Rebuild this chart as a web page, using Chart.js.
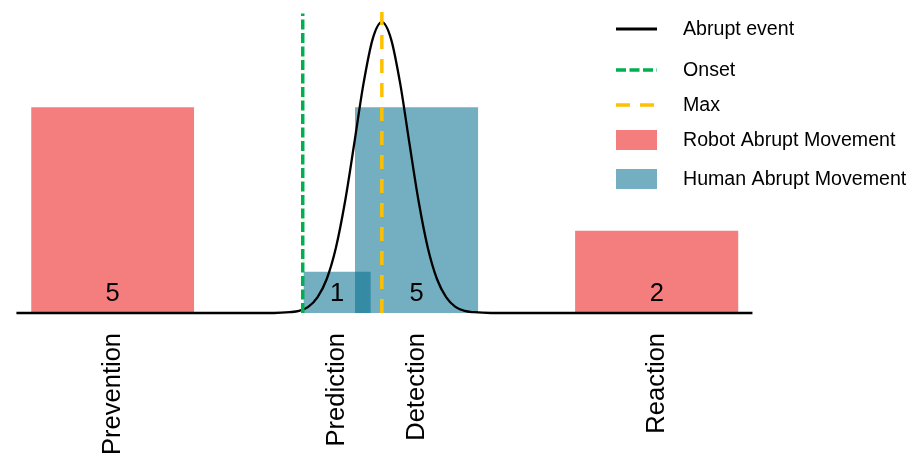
<!DOCTYPE html>
<html>
<head>
<meta charset="utf-8">
<script src="https://cdn.jsdelivr.net/npm/chart.js@4.4.1/dist/chart.umd.min.js"></script>
<style>
  html, body { margin: 0; padding: 0; background: #fff; }
  #wrap { width: 914px; height: 456px; }
</style>
</head>
<body>
<div id="wrap"><canvas id="c"></canvas></div>
<script>
// categories + bars (x range start/end, height)
const categories = ['Prevention', 'Prediction', 'Detection', 'Reaction'];
const barOwner   = ['robot', 'human', 'human', 'robot'];
const barStart   = [0.40, 7.80, 9.20, 15.18];
const barEnd     = [4.83, 9.63, 12.55, 19.62];
const barValue   = [5, 1, 5, 2];

// abrupt event curve
const curveX = [0, 7.0, 7.43, 7.68, 7.93, 8.18, 8.43, 8.68, 8.93, 9.18, 9.43, 9.68, 9.93,
                10.18, 10.43, 10.68, 10.93, 11.18, 11.43, 11.68, 11.93, 12.18, 12.43, 12.9, 20];
const curveY = [0, 0, 0.02, 0.05, 0.15, 0.38, 0.82, 1.58, 2.71, 4.12, 5.57, 6.66, 7.07,
                6.66, 5.57, 4.12, 2.71, 1.58, 0.82, 0.38, 0.15, 0.05, 0.02, 0, 0];

// onset / max markers
const onsetX = 7.78, onsetTop = 7.28;
const maxX = 9.93, maxTop = 7.32;

const legendLabels = ['Abrupt event', 'Onset', 'Max', 'Robot Abrupt Movement', 'Human Abrupt Movement'];

const ROBOT = '#F47E7E';
const HUMAN = 'rgba(0,109,140,0.55)';
const FONT = '"Liberation Sans", Arial, sans-serif';

const tickValues = categories.map((c, i) => (barStart[i] + barEnd[i]) / 2);

const barSets = categories.map((c, i) => ({
  label: c,
  data: [{ x: barStart[i], y: barValue[i] }, { x: barEnd[i], y: barValue[i] }],
  borderWidth: 0,
  pointRadius: 0,
  fill: 'origin',
  backgroundColor: barOwner[i] === 'robot' ? ROBOT : HUMAN,
  clip: false,
  isBar: true,
  value: barValue[i]
}));

// legend, drawn by hand top-right over the plot
const legendPlugin = {
  id: 'handLegend',
  afterDraw(chart) {
    const ctx = chart.ctx;
    const rows = [29, 70, 105, 140, 179];
    const x0 = 616, x1 = 657, tx = 683;
    ctx.save();
    ctx.font = '19.6px ' + FONT;
    ctx.fillStyle = '#000';
    ctx.textBaseline = 'middle';
    // line samples
    const lineStyle = [['#000', [], 3], ['#00B050', [10, 3.5], 3.5], ['#FFC000', [14, 10], 3.5]];
    lineStyle.forEach((s, i) => {
      ctx.beginPath();
      ctx.strokeStyle = s[0];
      ctx.setLineDash(s[1]);
      ctx.lineWidth = s[2];
      ctx.moveTo(x0, rows[i]);
      ctx.lineTo(x1, rows[i]);
      ctx.stroke();
    });
    ctx.setLineDash([]);
    ctx.fillStyle = ROBOT;
    ctx.fillRect(x0, rows[3] - 10, x1 - x0, 20);
    ctx.fillStyle = HUMAN;
    ctx.fillRect(x0, rows[4] - 10, x1 - x0, 20);
    ctx.fillStyle = '#000';
    legendLabels.forEach((t, i) => ctx.fillText(t, tx, rows[i] + 1));
    ctx.restore();
  }
};

// numbers inside bars
const valuePlugin = {
  id: 'barValues',
  afterDatasetsDraw(chart) {
    const ctx = chart.ctx;
    const xs = chart.scales.x, ys = chart.scales.y;
    ctx.save();
    ctx.font = '25.5px ' + FONT;
    ctx.fillStyle = '#000';
    ctx.textAlign = 'center';
    ctx.textBaseline = 'alphabetic';
    chart.data.datasets.forEach(ds => {
      if (!ds.isBar) return;
      const cx = xs.getPixelForValue((ds.data[0].x + ds.data[1].x) / 2);
      ctx.fillText(String(ds.value), cx, ys.getPixelForValue(0) - 12.5);
    });
    ctx.restore();
  }
};

new Chart(document.getElementById('c'), {
  type: 'line',
  data: {
    datasets: [
      { label: 'Onset', data: [{ x: onsetX, y: 0 }, { x: onsetX, y: onsetTop }],
        borderColor: '#00B050', borderWidth: 3.5, borderDash: [10, 3.5], pointRadius: 0, clip: false },
      { label: 'Max', data: [{ x: maxX, y: 0 }, { x: maxX, y: maxTop }],
        borderColor: '#FFC000', borderWidth: 3.5, borderDash: [14, 10], pointRadius: 0, clip: false },
      { label: 'Abrupt event', data: curveX.map((x, i) => ({ x, y: curveY[i] })),
        borderColor: '#000', borderWidth: 2.3, pointRadius: 0, cubicInterpolationMode: 'monotone', clip: false },
      ...barSets
    ]
  },
  options: {
    responsive: true,
    maintainAspectRatio: false,
    animation: false,
    events: [],
    layout: { padding: 0 },
    plugins: { legend: { display: false }, tooltip: { enabled: false } },
    scales: {
      x: {
        type: 'linear',
        min: -0.446,
        max: 24.39,
        grid: { display: false, drawTicks: false },
        border: { display: false },
        afterBuildTicks: axis => { axis.ticks = tickValues.map(v => ({ value: v })); },
        afterFit: axis => { axis.height = 143; },
        ticks: {
          autoSkip: false,
          minRotation: 90,
          maxRotation: 90,
          padding: 20,
          color: '#000',
          font: { family: FONT, size: 25.5 },
          callback: v => categories[tickValues.indexOf(v)]
        }
      },
      y: {
        display: false,
        min: 0,
        max: 7.61
      }
    }
  },
  plugins: [valuePlugin, legendPlugin]
});
</script>
</body>
</html>
